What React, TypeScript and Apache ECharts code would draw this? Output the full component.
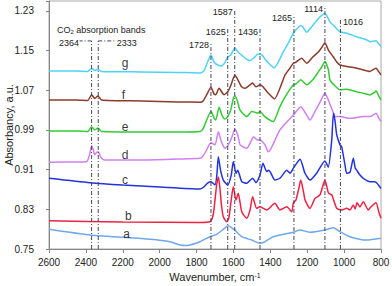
import React, { useEffect, useRef } from 'react';
import * as echarts from 'echarts';

const FONT = '"Liberation Sans", Arial, sans-serif';

// Series names (curve letters)
const seriesNames = ['g', 'f', 'e', 'd', 'c', 'b', 'a'];

// Spectra: [wavenumber (cm-1), absorbance]
const gData: [number, number][] = [
  [2600, 1.109], [2450, 1.109], [2390, 1.108], [2369, 1.114], [2352, 1.11], [2335, 1.112], [2315, 1.108],
  [2100, 1.107], [1900, 1.106], [1780, 1.105], [1760, 1.109], [1740, 1.127], [1722, 1.141], [1705, 1.127],
  [1685, 1.121], [1664, 1.119], [1645, 1.127], [1631, 1.137], [1615, 1.141], [1592, 1.155], [1575, 1.147],
  [1550, 1.139], [1530, 1.133], [1510, 1.13], [1490, 1.135], [1467, 1.143], [1445, 1.141], [1425, 1.131],
  [1405, 1.123], [1380, 1.115], [1330, 1.147], [1300, 1.167], [1275, 1.185], [1245, 1.198], [1230, 1.2],
  [1203, 1.187], [1180, 1.196], [1150, 1.21], [1125, 1.22], [1104, 1.225], [1090, 1.218], [1077, 1.208],
  [1050, 1.198], [1022, 1.188], [986, 1.185], [932, 1.178], [880, 1.172], [860, 1.168], [840, 1.169],
  [827, 1.17], [815, 1.165], [800, 1.158],
];
const fData: [number, number][] = [
  [2600, 1.0505], [2450, 1.0505], [2390, 1.0495], [2369, 1.061], [2352, 1.0535], [2335, 1.0585], [2315, 1.0505],
  [2100, 1.0485], [1900, 1.0465], [1780, 1.046], [1765, 1.0485], [1745, 1.061], [1722, 1.076], [1705, 1.0625],
  [1696, 1.061], [1678, 1.074], [1651, 1.061], [1631, 1.067], [1615, 1.079], [1592, 1.101], [1575, 1.0905],
  [1556, 1.077], [1537, 1.074], [1510, 1.081], [1496, 1.0845], [1478, 1.077], [1456, 1.081], [1440, 1.077],
  [1411, 1.064], [1378, 1.0525], [1320, 1.101], [1293, 1.115], [1275, 1.1245], [1260, 1.127], [1230, 1.1345],
  [1203, 1.1245], [1170, 1.137], [1140, 1.147], [1120, 1.157], [1104, 1.166], [1085, 1.151], [1058, 1.137],
  [1040, 1.127], [1022, 1.121], [986, 1.118], [950, 1.116], [914, 1.113], [860, 1.108], [827, 1.1145],
  [815, 1.109], [800, 1.101],
];
const eData: [number, number][] = [
  [2600, 0.988], [2450, 0.988], [2390, 0.987], [2369, 0.9967], [2352, 0.99], [2335, 0.994], [2315, 0.987],
  [2100, 0.986], [1900, 0.986], [1780, 0.987], [1765, 0.992], [1745, 1.01], [1722, 1.027], [1705, 1.014],
  [1696, 1.01], [1678, 1.036], [1660, 1.018], [1646, 1.012], [1631, 1.017], [1615, 1.03], [1600, 1.0545],
  [1592, 1.0585], [1580, 1.05], [1564, 1.03], [1528, 1.017], [1501, 1.027], [1485, 1.026], [1470, 1.024],
  [1456, 1.027], [1430, 1.017], [1402, 1.01], [1384, 1.007], [1348, 1.037], [1320, 1.0565], [1275, 1.081],
  [1260, 1.083], [1235, 1.091], [1203, 1.081], [1170, 1.091], [1140, 1.107], [1118, 1.119], [1104, 1.128],
  [1085, 1.111], [1077, 1.091], [1050, 1.079], [1022, 1.071], [986, 1.072], [932, 1.067], [880, 1.0625],
  [860, 1.0605], [833, 1.0665], [827, 1.069], [812, 1.0585], [800, 1.0505],
];
const dData: [number, number][] = [
  [2600, 0.925], [2450, 0.9255], [2395, 0.9265], [2380, 0.94], [2369, 0.958], [2360, 0.95], [2352, 0.94],
  [2340, 0.9455], [2333, 0.946], [2320, 0.9355], [2300, 0.9295], [2100, 0.9295], [1900, 0.9315], [1781, 0.933],
  [1765, 0.9375], [1745, 0.95], [1722, 0.964], [1700, 0.96], [1682, 0.9865], [1665, 0.966], [1646, 0.953],
  [1631, 0.958], [1610, 0.974], [1592, 0.9915], [1575, 0.978], [1564, 0.96], [1528, 0.953], [1501, 0.97],
  [1492, 0.9765], [1470, 0.97], [1456, 0.97], [1429, 0.96], [1411, 0.946], [1400, 0.95], [1384, 0.962],
  [1348, 0.99], [1311, 1.006], [1275, 1.02], [1235, 1.037], [1203, 1.02], [1185, 1.01], [1160, 1.026],
  [1130, 1.0465], [1104, 1.064], [1085, 1.05], [1058, 1.024], [1049, 1.017], [1022, 1.017], [968, 1.0135],
  [896, 1.017], [860, 1.017], [827, 1.0235], [812, 1.014], [800, 1.007],
];
const cData: [number, number][] = [
  [2600, 0.8926], [2378, 0.8837], [2200, 0.879], [2000, 0.875], [1781, 0.871], [1760, 0.875], [1740, 0.883],
  [1722, 0.8857], [1700, 0.879], [1690, 0.899], [1682, 0.936], [1670, 0.909], [1655, 0.889], [1631, 0.879],
  [1612, 0.899], [1601, 0.926], [1586, 0.9027], [1577, 0.909], [1555, 0.8857], [1528, 0.8825], [1496, 0.8926],
  [1478, 0.8837], [1456, 0.899], [1440, 0.923], [1420, 0.906], [1411, 0.909], [1400, 0.905], [1375, 0.889],
  [1348, 0.8926], [1320, 0.906], [1311, 0.909], [1293, 0.9027], [1275, 0.913], [1239, 0.931], [1212, 0.9027],
  [1185, 0.889], [1149, 0.9027], [1104, 0.9275], [1086, 0.915], [1067, 0.97], [1058, 1.0237], [1049, 1.008],
  [1040, 0.98], [1022, 0.96], [1013, 0.956], [995, 0.919], [986, 0.9027], [968, 0.905], [950, 0.933],
  [940, 0.913], [932, 0.909], [914, 0.899], [896, 0.8926], [860, 0.8857], [833, 0.8857], [800, 0.872],
];
const bData: [number, number][] = [
  [2600, 0.807], [2200, 0.8045], [1781, 0.8035], [1727, 0.805], [1710, 0.8186], [1700, 0.849], [1691, 0.879],
  [1682, 0.895], [1675, 0.879], [1665, 0.8387], [1655, 0.815], [1637, 0.805], [1625, 0.8125], [1612, 0.849],
  [1601, 0.8756], [1590, 0.853], [1586, 0.849], [1574, 0.8623], [1555, 0.825], [1528, 0.8119], [1510, 0.8287],
  [1496, 0.8555], [1474, 0.832], [1456, 0.835], [1420, 0.8287], [1375, 0.842], [1348, 0.8287], [1311, 0.835],
  [1284, 0.825], [1275, 0.843], [1261, 0.849], [1245, 0.873], [1235, 0.889], [1220, 0.865], [1212, 0.849],
  [1185, 0.832], [1158, 0.852], [1131, 0.859], [1104, 0.889], [1085, 0.863], [1067, 0.859], [1040, 0.832],
  [1013, 0.8287], [986, 0.832], [968, 0.8287], [950, 0.8387], [940, 0.8307], [930, 0.843], [914, 0.8347],
  [896, 0.8454], [869, 0.8287], [855, 0.8347], [827, 0.843], [812, 0.8246], [800, 0.812],
];
const aData: [number, number][] = [
  [2600, 0.7897], [2378, 0.7782], [2052, 0.7696], [1944, 0.7647], [1890, 0.758], [1853, 0.757], [1836, 0.758],
  [1781, 0.7647], [1727, 0.7748], [1691, 0.7796], [1660, 0.7883], [1628, 0.797], [1600, 0.79], [1592, 0.788],
  [1555, 0.7748], [1501, 0.768], [1456, 0.7615], [1429, 0.7647], [1384, 0.7748], [1275, 0.7837], [1239, 0.7883],
  [1185, 0.7837], [1104, 0.7883], [1058, 0.793], [1022, 0.7849], [968, 0.7748], [878, 0.768], [800, 0.7716],
];
const allData = [gData, fData, eData, dData, cData, bData, aData];

// Curve letter label positions
const letterWn = [2188, 2197, 2188, 2188, 2188, 2170, 2179];
const letterVal = [1.1251, 1.0606, 0.9967, 0.9396, 0.8892, 0.8166, 0.7803];

// Band marker lines
const markerPos = [2369, 2333, 1722, 1631, 1593, 1456, 1272, 1104, 1020];
const markerTop = [1.1695, 1.1695, 1.1665, 1.1937, 1.233, 1.1937, 1.222, 1.24, 1.2129];
const markerLabels = ['2364', '2333', '1728', '1625', '1587', '1436', '1265', '1114', '1016'];
const markerSide = ['left', 'right', 'left', 'left', 'left', 'left', 'left', 'left', 'right'];
const markerLeader = [true, true, false, false, false, false, false, false, false];

const colors = ['#4fd3f5', '#8c3b2b', '#33cc33', '#d080f0', '#2233dd', '#ee2244', '#6fa8ef'];

export default function App() {
  const ref = useRef<HTMLDivElement>(null);
  useEffect(() => {
    document.body.style.margin = '0';
    if (!ref.current) return;
    const chart = echarts.init(ref.current, undefined, { renderer: 'svg' });
    const dashStyle = { stroke: '#454858', lineWidth: 1, lineDash: [4, 2, 1, 2] };
    const option: any = {
      animation: false,
      backgroundColor: '#ffffff',
      textStyle: { fontFamily: FONT },
      grid: {
        left: 49, right: 11, top: 1, bottom: 37,
        show: true, borderColor: '#a8a8a8', borderWidth: 1,
        outerBoundsMode: 'none',
      },
      xAxis: {
        type: 'value', inverse: true, min: 800, max: 2600, interval: 200,
        axisLine: { show: true, lineStyle: { color: '#868686' } },
        axisTick: { show: true, length: 4, lineStyle: { color: '#868686' } },
        axisLabel: {
          fontSize: 10, color: '#222', margin: 8, fontFamily: FONT,
          formatter: (v: number) => String(Math.round(v)),
        },
        splitLine: { show: false },
        name: 'Wavenumber, cm{sup|-1}',
        nameLocation: 'middle', nameGap: 20,
        nameTextStyle: {
          fontSize: 11, color: '#222', fontFamily: FONT,
          rich: { sup: { fontSize: 7, verticalAlign: 'top', color: '#222', fontFamily: FONT } },
        },
      },
      yAxis: {
        type: 'value', min: 0.75, max: 1.25, interval: 0.08,
        axisLine: { show: true, lineStyle: { color: '#868686' } },
        axisTick: { show: true, length: 3, lineStyle: { color: '#868686' } },
        axisLabel: {
          fontSize: 10, color: '#222', margin: 15, fontFamily: FONT,
          formatter: (v: number) => (Math.abs(v - 1.25) < 1e-6 ? '' : v.toFixed(2)),
        },
        splitLine: { show: false },
        name: 'Absorbancy, a.u.', nameLocation: 'middle', nameGap: 35,
        nameMoveOverlap: false,
        nameTextStyle: { fontSize: 11, color: '#222', fontFamily: FONT },
      },
      graphic: [
        {
          type: 'text', left: 57, top: 23,
          style: {
            text: '{a|CO}{s|2}{a| absorption bands}',
            rich: {
              a: { fontSize: 9, lineHeight: 10, verticalAlign: 'top', fill: '#222', color: '#222', fontFamily: FONT },
              s: { fontSize: 6, lineHeight: 6, padding: [6, 0, 0, 0], verticalAlign: 'bottom', fill: '#222', color: '#222', fontFamily: FONT },
            },
          },
        },
      ],
      series: [
        ...allData.map((d, i) => ({
          type: 'line', name: seriesNames[i], data: d, showSymbol: false, symbol: 'none',
          smooth: 0.2, lineStyle: { width: 1.5, color: colors[i] }, itemStyle: { color: colors[i] },
          silent: true, z: 2,
        })),
        {
          type: 'custom', silent: true, clip: false, z: 3,
          data: markerPos.map((p, i) => [p, markerTop[i], i]),
          encode: { x: 0, y: 1 },
          renderItem: (_params: any, api: any) => {
            const i = api.value(2);
            const wn = api.value(0);
            const top = api.value(1);
            const b = api.coord([wn, 0.75]);
            const t = api.coord([wn, top]);
            const children: any[] = [
              { type: 'line', shape: { x1: b[0], y1: b[1], x2: t[0], y2: t[1] }, style: { ...dashStyle } },
            ];
            const left = markerSide[i] === 'left';
            let tx: number, ty: number;
            if (markerLeader[i]) {
              const lx = left ? t[0] - 12 : t[0] + 17;
              children.push({ type: 'line', shape: { x1: t[0], y1: t[1], x2: lx, y2: t[1] }, style: { ...dashStyle } });
              tx = left ? lx - 0.5 : lx + 1.5;
              ty = t[1] + 1.7;
            } else {
              tx = left ? t[0] - 2 : t[0] + 2.6;
              ty = t[1] + 3;
            }
            children.push({
              type: 'text', x: tx, y: ty,
              style: {
                text: markerLabels[i], align: left ? 'right' : 'left', verticalAlign: 'middle',
                fontSize: 9, fill: '#222', fontFamily: FONT,
              },
            });
            return { type: 'group', children };
          },
        },
        {
          type: 'scatter', silent: true, z: 4, symbolSize: 1,
          itemStyle: { color: 'rgba(0,0,0,0)' },
          data: letterWn.map((w, i) => ({ value: [w, letterVal[i]], name: seriesNames[i] })),
          label: { show: true, position: 'inside', formatter: '{b}', fontSize: 12, color: '#000', fontFamily: FONT },
        },
      ],
    };
    chart.setOption(option);
    return () => chart.dispose();
  }, []);
  return <div ref={ref} style={{ position: 'fixed', left: 0, top: 0, width: 392, height: 286 }} />;
}
